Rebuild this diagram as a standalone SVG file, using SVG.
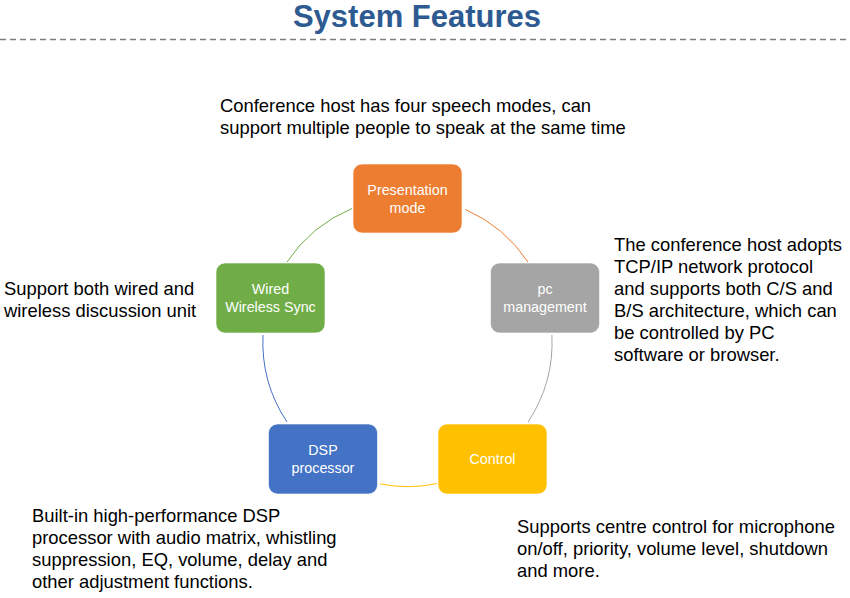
<svg xmlns="http://www.w3.org/2000/svg" width="850" height="598" viewBox="0 0 850 598">
<style>
.title{font-family:"Liberation Sans",Arial,sans-serif;font-weight:bold;font-size:31px;fill:#2E5A92}
.body{font-family:"Liberation Sans",Arial,sans-serif;font-size:18.4px;fill:#000}
.lbl{font-family:"Liberation Sans",Arial,sans-serif;font-size:14.3px;fill:#fff;text-anchor:middle}
.box{stroke:#fff;stroke-width:1;stroke-opacity:0.6}
.arc{fill:none;stroke-width:1}
</style>
<rect width="850" height="598" fill="#fff"/>
<text class="title" x="417" y="27" text-anchor="middle">System Features</text>
<line x1="0" y1="39.5" x2="850" y2="39.5" stroke="#7f7f7f" stroke-width="1.3" stroke-dasharray="6 4"/>

<g id="connectors">
<path class="arc" stroke="#ED7D31" d="M465.2,209.4 A144.6,144.6 0 0 1 528.1,262.2"/>
<path class="arc" stroke="#A5A5A5" d="M551.9,335 A144.6,144.6 0 0 1 528,422"/>
<path class="arc" stroke="#FFC000" d="M437,483.6 A144.6,144.6 0 0 1 379.9,483.9"/>
<path class="arc" stroke="#4472C4" d="M287,422 A144.6,144.6 0 0 1 263,335"/>
<path class="arc" stroke="#70AD47" d="M287,262 A144.6,144.6 0 0 1 352,208.5"/>
</g>

<g id="presentation">
<rect class="box" x="353" y="164" width="109" height="69" rx="9" fill="#ED7D31"/>
<text class="lbl" x="407.5" y="195">Presentation</text>
<text class="lbl" x="407.5" y="213">mode</text>
</g>
<g id="pc">
<rect class="box" x="490.5" y="263" width="109" height="70" rx="9" fill="#A5A5A5"/>
<text class="lbl" x="545" y="294">pc</text>
<text class="lbl" x="545" y="312">management</text>
</g>
<g id="control">
<rect class="box" x="438" y="424" width="109" height="70" rx="9" fill="#FFC000"/>
<text class="lbl" x="492.5" y="464">Control</text>
</g>
<g id="dsp">
<rect class="box" x="268.5" y="424" width="109" height="70" rx="9" fill="#4472C4"/>
<text class="lbl" x="323" y="455">DSP</text>
<text class="lbl" x="323" y="473">processor</text>
</g>
<g id="wired">
<rect class="box" x="216" y="263" width="109" height="70" rx="9" fill="#70AD47"/>
<text class="lbl" x="270.5" y="294">Wired</text>
<text class="lbl" x="270.5" y="312">Wireless Sync</text>
</g>

<g id="desc-top">
<text class="body" x="220" y="112">Conference host has four speech modes, can</text>
<text class="body" x="220" y="134">support multiple people to speak at the same time</text>
</g>
<g id="desc-left">
<text class="body" x="4" y="295">Support both wired and</text>
<text class="body" x="4" y="317">wireless discussion unit</text>
</g>
<g id="desc-right">
<text class="body" x="614" y="251">The conference host adopts</text>
<text class="body" x="614" y="273">TCP/IP network protocol</text>
<text class="body" x="614" y="295">and supports both C/S and</text>
<text class="body" x="614" y="317">B/S architecture, which can</text>
<text class="body" x="614" y="339">be controlled by PC</text>
<text class="body" x="614" y="361">software or browser.</text>
</g>
<g id="desc-bottom-left">
<text class="body" x="32" y="522">Built-in high-performance DSP</text>
<text class="body" x="32" y="544">processor with audio matrix, whistling</text>
<text class="body" x="32" y="566">suppression, EQ, volume, delay and</text>
<text class="body" x="32" y="588">other adjustment functions.</text>
</g>
<g id="desc-bottom-right">
<text class="body" x="517" y="533">Supports centre control for microphone</text>
<text class="body" x="517" y="555">on/off, priority, volume level, shutdown</text>
<text class="body" x="517" y="577">and more.</text>
</g>
</svg>
